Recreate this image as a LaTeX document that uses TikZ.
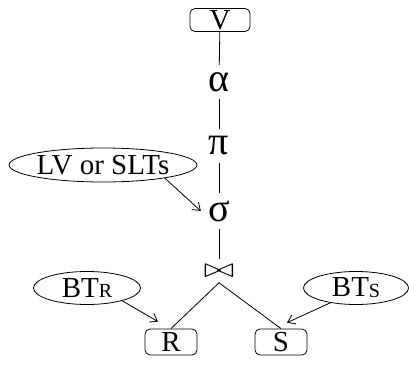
\documentclass[tikz,border=0pt]{standalone}
\usepackage{fontspec}
\setmainfont{Liberation Serif}
\usepackage{amssymb}
\usetikzlibrary{shapes.geometric,arrows.meta,calc}

\tikzset{
	rel/.style={draw, rounded corners=5pt, minimum width=52pt, minimum height=26pt, inner sep=0pt},
	tag/.style={draw, ellipse, inner sep=0pt},
	op/.style={inner sep=7pt, font=\fontsize{40}{42}\selectfont},
}

\begin{document}
\begin{tikzpicture}[x=1pt, y=-1pt, line width=0.8pt, >={Straight Barb[length=7pt,width=10pt]}, font=\fontsize{29}{31}\selectfont]
		\useasboundingbox (0,0) rectangle (409,364);
		
		\node[rel, minimum width=60pt, minimum height=23pt] (V) at (220, 20) {V};
		\node[op] (alpha) at (219, 82) {α};
		\node[op] (pi) at (219, 146) {π};
		\node[op] (sigma) at (219, 211) {σ};
		\node[inner sep=5pt] (join) at (219, 271) {\scalebox{1.5}[1.1]{$\bowtie$}};
		
		\node[rel] (R) at (171, 342) {R};
		\node[rel] (S) at (281, 342) {S};
		
		\node[tag, minimum width=180pt, minimum height=34pt] (lv) at (103, 165) {LV or SLTs};
		\node[tag, minimum width=107pt, minimum height=33pt] (btr) at (87, 288) {BT\raisebox{-1pt}{\fontsize{20}{20}\selectfont R}};
		\node[tag, minimum width=105pt, minimum height=33pt] (bts) at (356, 288) {BT\raisebox{-1pt}{\fontsize{20}{20}\selectfont S}};
		
		\draw (V) -- (alpha);
		\draw (alpha) -- (pi);
		\draw (pi) -- (sigma);
		\draw (sigma) -- (join);
		\draw (join.south) -- (R.north);
		\draw (join.south) -- (S.north);
		
		\draw[->] (lv.-12) -- (sigma.west);
		\draw[->] (btr.-20) -- ($(R.north)+(-13,-7)$);
		\draw[->] (bts.-150) -- ($(S.north)+(6,-6)$);
		\end{tikzpicture}
\end{document}
